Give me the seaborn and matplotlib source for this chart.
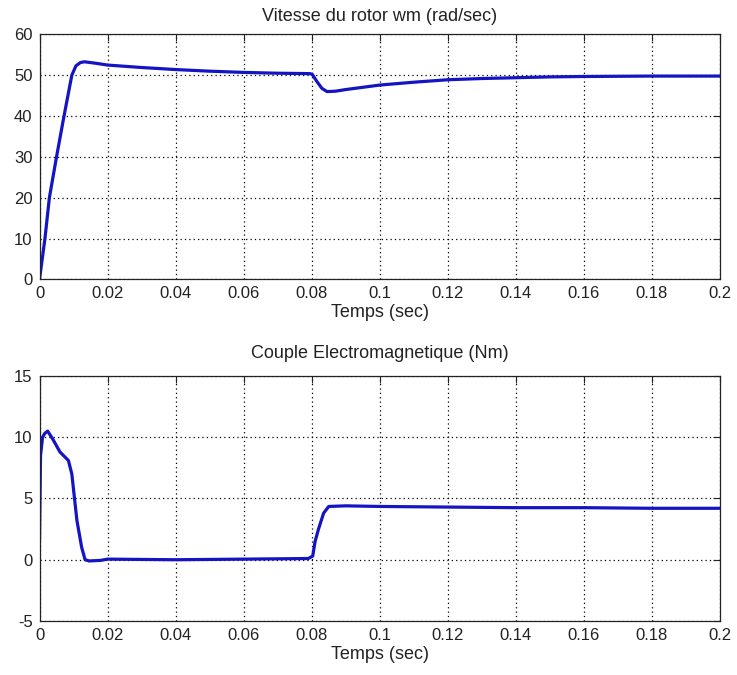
import matplotlib
matplotlib.use("Agg")
import matplotlib.pyplot as plt
import seaborn as sns
import pandas as pd

# Rotor speed wm (rad/sec) versus time (sec)
speed_t = [0, 0.0016, 0.0029, 0.005, 0.0072, 0.0095, 0.0107, 0.012, 0.0132,
           0.016, 0.02, 0.03, 0.04, 0.05, 0.06, 0.07, 0.0795, 0.0802, 0.0815,
           0.083, 0.0845, 0.087, 0.09, 0.1, 0.11, 0.12, 0.13, 0.14, 0.15,
           0.16, 0.18, 0.2]
speed = [0, 10, 20, 30, 40, 50, 52.3, 53.1, 53.3,
         53.0, 52.5, 51.9, 51.4, 51.0, 50.7, 50.5, 50.4, 50.2, 48.5,
         46.8, 46.0, 46.1, 46.5, 47.6, 48.3, 48.9, 49.2, 49.4, 49.6,
         49.7, 49.8, 49.8]

# Electromagnetic torque (Nm) versus time (sec)
torque_t = [0, 0.0003, 0.0009, 0.0015, 0.0024, 0.004, 0.006, 0.0085, 0.0095,
            0.011, 0.0124, 0.0134, 0.0146, 0.018, 0.02, 0.04, 0.06, 0.079,
            0.0803, 0.081, 0.082, 0.0835, 0.085, 0.09, 0.1, 0.12, 0.14,
            0.16, 0.18, 0.2]
torque = [1.5, 8.5, 10.0, 10.3, 10.5, 9.8, 8.8, 8.1, 7.0,
          3.2, 1.0, 0.0, -0.1, -0.05, 0.05, 0.0, 0.05, 0.1,
          0.3, 1.5, 2.5, 3.8, 4.35, 4.4, 4.35, 4.3, 4.25,
          4.25, 4.2, 4.2]

x_ticks = [0, 0.02, 0.04, 0.06, 0.08, 0.1, 0.12, 0.14, 0.16, 0.18, 0.2]
x_tick_labels = ["0", "0.02", "0.04", "0.06", "0.08", "0.1", "0.12",
                 "0.14", "0.16", "0.18", "0.2"]
speed_ticks = [0, 10, 20, 30, 40, 50, 60]
torque_ticks = [-5, 0, 5, 10, 15]

titles = ["Vitesse du rotor wm (rad/sec)", "Couple Electromagnetique (Nm)"]
x_label = "Temps (sec)"

sns.set_style("white")
plt.rcParams["font.family"] = ["Liberation Sans", "DejaVu Sans"]

line_color = "#1414c4"
text_color = "#222222"

fig = plt.figure(figsize=(7.37, 6.75), dpi=100)
fig.patch.set_facecolor("white")
ax1 = fig.add_axes([0.0536, 0.586, 0.9233, 0.363])
ax2 = fig.add_axes([0.0536, 0.080, 0.9233, 0.363])

df_speed = pd.DataFrame({"t": speed_t, "v": speed})
df_torque = pd.DataFrame({"t": torque_t, "v": torque})

sns.lineplot(data=df_speed, x="t", y="v", ax=ax1, color=line_color,
             linewidth=2.3, sort=False)
sns.lineplot(data=df_torque, x="t", y="v", ax=ax2, color=line_color,
             linewidth=2.3, sort=False)

for ax, yticks, title, tpad in [(ax1, speed_ticks, titles[0], 10),
                                (ax2, torque_ticks, titles[1], 13)]:
    ax.set_facecolor("white")
    ax.set_xlim(0, 0.2)
    ax.set_ylim(yticks[0], yticks[-1])
    ax.set_xticks(x_ticks)
    ax.set_xticklabels(x_tick_labels)
    ax.set_yticks(yticks)
    ax.set_yticklabels([str(v) for v in yticks])
    ax.set_xlabel(x_label, fontsize=13, labelpad=2, color=text_color)
    ax.set_ylabel("")
    ax.set_title(title, fontsize=13, pad=tpad, color=text_color)
    ax.grid(True, color="black", linestyle=(0, (1, 2.5)), linewidth=0.9)
    ax.tick_params(direction="in", length=5, width=0.8, top=True, right=True,
                   labelsize=12, pad=5, colors=text_color)
    for spine in ax.spines.values():
        spine.set_visible(True)
        spine.set_color(text_color)
        spine.set_linewidth(0.9)

fig.savefig("out.png", dpi=100, facecolor="white")
